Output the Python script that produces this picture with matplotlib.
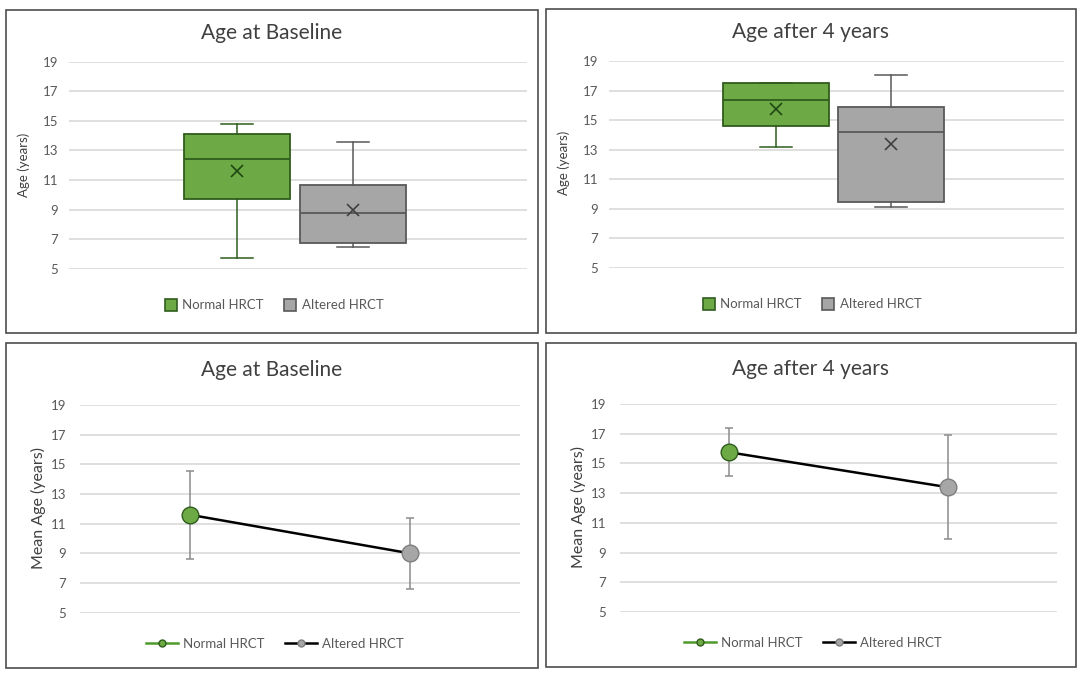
import matplotlib
matplotlib.use("Agg")
import matplotlib.pyplot as plt
from matplotlib.patches import Rectangle, Patch
from matplotlib.lines import Line2D

plt.rcParams['font.family'] = ['Lato', 'DejaVu Sans']

# ---------------- data ----------------
groups = ["Normal HRCT", "Altered HRCT"]
y_ticks = [5, 7, 9, 11, 13, 15, 17, 19]

# Box plots (min whisker, Q1, median, Q3, max whisker, mean)
base_min = [5.7, 6.5]
base_q1 = [9.7, 6.75]
base_med = [12.4, 8.75]
base_q3 = [14.1, 10.65]
base_max = [14.8, 13.55]
base_mean = [11.6, 9.0]

four_min = [13.2, 9.15]
four_q1 = [14.6, 9.45]
four_med = [16.35, 14.2]
four_q3 = [17.5, 15.9]
four_max = [17.5, 18.05]
four_mean = [15.75, 13.4]

# Mean plots with error bars
mean_base = [11.6, 9.0]
err_base = [2.95, 2.4]
mean_four = [15.75, 13.4]
err_four = [1.62, 3.48]

titles = ["Age at Baseline", "Age after 4 years"]

# ---------------- style ----------------
W, H = 1084, 673
fill_cols = ["#6DAA45", "#A6A6A6"]
edge_cols = ["#2F5C1D", "#595959"]
mean_cols = ["#1E4712", "#404040"]
grid_col = "#D9D9D9"
tick_col = "#595959"
text_col = "#404040"

fig = plt.figure(figsize=(W / 100, H / 100), dpi=100)
fig.patch.set_facecolor("white")


def fx(x):
    return x / W


def fy(y):
    return 1 - y / H


def add_ax(x0, x1, ytop, ybot):
    return fig.add_axes([fx(x0), fy(ybot), fx(x1) - fx(x0), fy(ytop) - fy(ybot)])


# panel frames
for (x0, y0, x1, y1) in [(6, 10, 538, 333), (546, 9, 1076, 333),
                         (6, 343, 538, 668), (546, 343, 1076, 667)]:
    fig.patches.append(Rectangle((fx(x0), fy(y1)), fx(x1) - fx(x0), fy(y0) - fy(y1),
                                 transform=fig.transFigure, fill=False,
                                 edgecolor="#4D4D4D", linewidth=1.2, zorder=0))


def style_axis(ax, pad):
    ax.set_ylim(5, 19)
    ax.set_yticks(y_ticks)
    ax.set_xticks([])
    for s in ax.spines.values():
        s.set_visible(False)
    ax.grid(axis="y", color=grid_col, linewidth=1.2)
    ax.set_axisbelow(True)
    ax.tick_params(axis="y", length=0, pad=pad, labelsize=9.5, labelcolor=tick_col)


def box_panel(ax, mins, q1s, meds, q3s, maxs, means):
    positions = [0.367, 0.62]
    width = 0.232
    for i in range(2):
        stats = [dict(whislo=mins[i], q1=q1s[i], med=meds[i], q3=q3s[i],
                      whishi=maxs[i], mean=means[i], label=groups[i])]
        ax.bxp(stats, positions=[positions[i]], widths=width, capwidths=0.07,
               patch_artist=True, showmeans=True, showfliers=False,
               boxprops=dict(facecolor=fill_cols[i], edgecolor=edge_cols[i], linewidth=1.3),
               medianprops=dict(color=edge_cols[i], linewidth=1.3),
               whiskerprops=dict(color=edge_cols[i], linewidth=1.1),
               capprops=dict(color=edge_cols[i], linewidth=1.1),
               meanprops=dict(marker="x", markeredgecolor=mean_cols[i],
                              markerfacecolor=mean_cols[i], markersize=9,
                              markeredgewidth=1.2))
    ax.set_xlim(0, 1)
    style_axis(ax, 8)


def mean_panel(ax, means, errs):
    xs = [0, 1]
    ax.plot(xs, means, color="black", linewidth=1.8, zorder=3)
    for i in range(2):
        ax.errorbar([xs[i]], [means[i]], yerr=[errs[i]], fmt="none",
                    ecolor="#8C8C8C", elinewidth=1.1, capsize=3, capthick=1.1, zorder=2)
        ax.plot([xs[i]], [means[i]], marker="o", markersize=12,
                markerfacecolor=fill_cols[i], markeredgecolor=edge_cols[i] if i == 0 else "#7F7F7F",
                markeredgewidth=1.0, linestyle="none", zorder=4)
    ax.set_xlim(-0.5, 1.5)
    style_axis(ax, 10)


# Top-left
ax1 = add_ax(69, 527, 61.7, 268.7)
box_panel(ax1, base_min, base_q1, base_med, base_q3, base_max, base_mean)
# Top-right
ax2 = add_ax(609, 1064, 61, 268)
box_panel(ax2, four_min, four_q1, four_med, four_q3, four_max, four_mean)
# Bottom-left
ax3 = add_ax(80, 520, 405, 612.7)
mean_panel(ax3, mean_base, err_base)
# Bottom-right
ax4 = add_ax(620, 1057, 404, 612)
mean_panel(ax4, mean_four, err_four)

# titles
for (cx, cy, t) in [(272, 33, titles[0]), (810, 32, titles[1]),
                    (272, 370, titles[0]), (810, 369, titles[1])]:
    fig.text(fx(cx), fy(cy), t, ha="center", va="center", fontsize=15, color=text_col)

# y labels
for (cx, cy, t, fs) in [(24, 165, "Age (years)", 9.5), (564, 163, "Age (years)", 9.5),
                        (38, 508, "Mean Age (years)", 11.5), (578, 507, "Mean Age (years)", 11.5)]:
    fig.text(fx(cx), fy(cy), t, ha="center", va="center", rotation=90,
             fontsize=fs, color=text_col)

# legends
box_handles = [Patch(facecolor=fill_cols[i], edgecolor=edge_cols[i], linewidth=1.2,
                     label=groups[i]) for i in range(2)]
line_handles = [
    Line2D([], [], color="#4E9A2A", linewidth=1.8, marker="o", markersize=5,
           markerfacecolor=fill_cols[0], markeredgecolor=edge_cols[0], label=groups[0]),
    Line2D([], [], color="black", linewidth=1.8, marker="o", markersize=5,
           markerfacecolor=fill_cols[1], markeredgecolor="#7F7F7F", label=groups[1]),
]
for (cx, cy, hs, hl) in [(274, 305, box_handles, 0.9), (812, 304, box_handles, 0.9),
                         (275, 644, line_handles, 2.4), (813, 643, line_handles, 2.4)]:
    leg = fig.legend(handles=hs, loc="center", bbox_to_anchor=(fx(cx), fy(cy)),
                     ncol=2, frameon=False, fontsize=9.5, handlelength=hl,
                     handleheight=1.0, handletextpad=0.4, columnspacing=1.6,
                     labelcolor=tick_col)

fig.savefig("out.png", dpi=100)
